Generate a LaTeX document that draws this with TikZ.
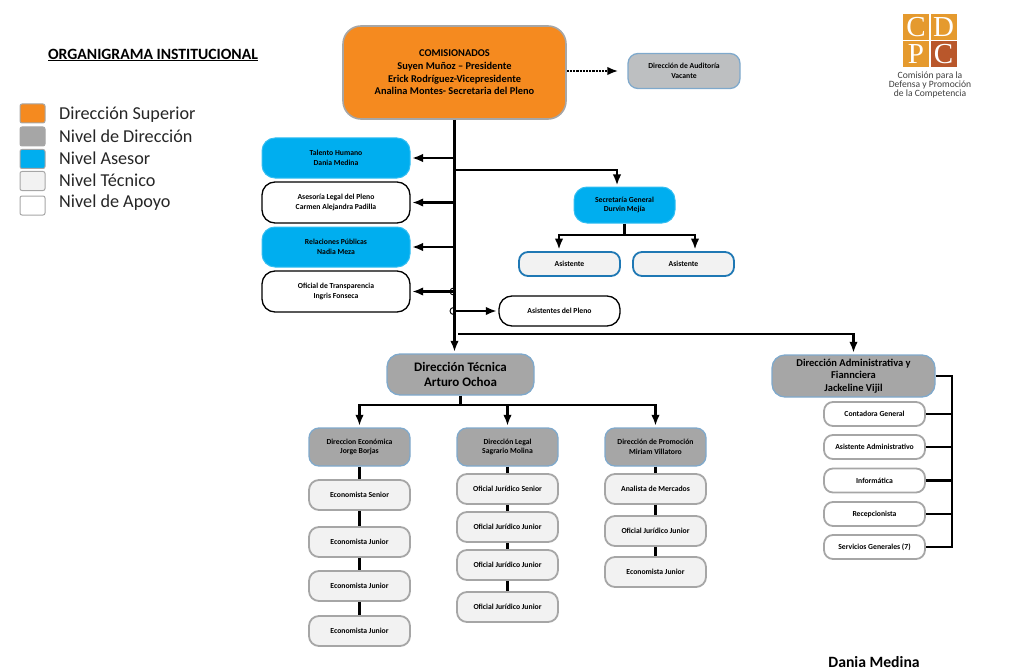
\documentclass[tikz,border=0pt]{standalone}
\usepackage{fontspec}
\setmainfont{Carlito}
\newfontfamily\logofont{Liberation Serif}
\usetikzlibrary{arrows.meta}
\definecolor{naranja}{HTML}{F58A1F}
\definecolor{gris}{HTML}{A6A6A6}
\definecolor{grisclaro}{HTML}{BDBFC1}
\definecolor{celeste}{HTML}{00AEEF}
\definecolor{tecnico}{HTML}{F2F2F2}
\definecolor{bordeazul}{HTML}{7FA9CC}
\definecolor{azul}{HTML}{1F78B4}
\definecolor{logoclaro}{HTML}{E59A2E}
\definecolor{logooscuro}{HTML}{B9572B}
\tikzset{
  caja/.style={draw,rounded corners=10pt,align=center,text=black,inner sep=0pt,font=\bfseries\fontsize{7.7}{9.5}\selectfont},
  superior/.style={caja,fill=naranja,draw=gris,line width=1.6pt,rounded corners=18pt,minimum width=223pt,minimum height=93pt,font=\bfseries\fontsize{10.4}{12.6}\selectfont},
  auditoria/.style={caja,fill=grisclaro,draw=bordeazul,line width=1.3pt,minimum width=112pt,minimum height=35pt},
  asesor/.style={caja,fill=celeste,draw=celeste!80!white,line width=1pt,minimum width=148pt,minimum height=40pt,rounded corners=13pt},
  apoyo/.style={caja,fill=white,draw=black,line width=1.3pt,minimum width=148pt,minimum height=41pt,rounded corners=13pt},
  direccion/.style={caja,fill=gris,draw=bordeazul,line width=1.3pt,minimum width=101pt,minimum height=38pt},
  jefatura/.style={direccion,rounded corners=13pt,font=\bfseries\fontsize{13}{15.5}\selectfont},
  tecnica/.style={caja,fill=tecnico,draw=gris,line width=1.8pt,minimum width=101pt,minimum height=30pt},
  lista/.style={caja,fill=white,draw=gris,line width=1.8pt,minimum width=101pt,minimum height=24pt,rounded corners=9pt},
  asistente/.style={caja,fill=tecnico,draw=azul,line width=1.8pt,minimum width=101pt,minimum height=24pt,rounded corners=9pt},
  muestra/.style={draw=gris,line width=1pt,rounded corners=2pt,minimum width=25pt,minimum height=19pt,inner sep=0pt},
  leyenda/.style={anchor=west,inner sep=0pt,text=black!85,font=\fontsize{18.2}{20}\selectfont},
  logocuadro/.style={minimum size=26pt,inner sep=0pt,text=white,font=\logofont\fontsize{29}{29}\selectfont},
  linea/.style={black,line width=2.2pt},
  flecha/.style={linea,-{Latex[length=11pt,width=8.5pt]},shorten >=1.5pt},
}
\begin{document}
\begin{tikzpicture}[x=1pt,y=-1pt]
\useasboundingbox (0,0) rectangle (1024,671);
% titulo y leyenda
\node[inner sep=0pt,font=\bfseries\fontsize{15.7}{18}\selectfont] (titulo) at (153,55) {\underline{ORGANIGRAMA INSTITUCIONAL}};
\node[muestra,fill=naranja] (m1) at (32.5,113.5) {};
\node[muestra,fill=gris] (m2) at (32.5,136.5) {};
\node[muestra,fill=celeste] (m3) at (32.5,159) {};
\node[muestra,fill=tecnico] (m4) at (32.5,181) {};
\node[muestra,fill=white] (m5) at (32.5,205.5) {};
\node[leyenda] (l1) at (59,115) {Dirección Superior};
\node[leyenda] (l2) at (59,136.5) {Nivel de Dirección};
\node[leyenda] (l3) at (59,158.5) {Nivel Asesor};
\node[leyenda] (l4) at (59,180.5) {Nivel Técnico};
\node[leyenda] (l5) at (59,202.5) {Nivel de Apoyo};
% logo
\node[logocuadro,fill=logoclaro] (logoa) at (916,27) {C};
\node[logocuadro,fill=logoclaro] (logob) at (943.5,27) {D};
\node[logocuadro,fill=logoclaro] (logoc) at (916,54.5) {P};
\node[logocuadro,fill=logooscuro] (logod) at (943.5,54.5) {C};
\node[align=center,inner sep=0pt,text=black!75,font=\fontsize{9.6}{9.4}\selectfont] (logotexto) at (930,85) {Comisión para la\\Defensa y Promoción\\de la Competencia};
% nivel superior y asesores
\node[superior] (comis) at (454.5,72.5) {COMISIONADOS\\Suyen Muñoz -- Presidente\\Erick Rodríguez-Vicepresidente\\Analina Montes- Secretaria del Pleno};
\node[auditoria] (audit) at (684,71) {Dirección de Auditoría\\Vacante};
\node[asesor] (talento) at (336,158) {Talento Humano\\Dania Medina};
\node[apoyo] (asesoria) at (336,202.5) {Asesoría Legal del Pleno\\Carmen Alejandra Padilla};
\node[asesor] (relaciones) at (336,247) {Relaciones Públicas\\Nadia Meza};
\node[apoyo] (oficial) at (336,291.5) {Oficial de Transparencia\\Ingris Fonseca};
\node[asesor,minimum width=101pt,minimum height=36pt] (secgen) at (624.5,205) {Secretaría General\\Durvin Mejía};
\node[asistente] (asisa) at (569.5,264) {Asistente};
\node[asistente] (asisb) at (683.5,264) {Asistente};
\node[apoyo,minimum width=121pt,minimum height=30pt] (pleno) at (559.5,311) {Asistentes del Pleno};
% direcciones
\node[jefatura,minimum width=147pt,minimum height=41pt] (dirtec) at (460.5,374.5) {Dirección Técnica\\Arturo Ochoa};
\node[jefatura,minimum width=163pt,minimum height=42pt,font=\bfseries\fontsize{10.5}{12.8}\selectfont] (diradm) at (853.5,376) {Dirección Administrativa y\\Fiannciera\\Jackeline Vijil};
\node[direccion] (direco) at (359.5,447) {Direccion Económica\\Jorge Borjas};
\node[direccion] (dirleg) at (507.5,447) {Dirección Legal\\Sagrario Molina};
\node[direccion] (dirpro) at (655.5,447) {Dirección de Promoción\\Miriam Villatoro};
% economia
\node[tecnica] (econa) at (359.5,495) {Economista Senior};
\node[tecnica] (econb) at (359.5,542) {Economista Junior};
\node[tecnica] (econc) at (359.5,586) {Economista Junior};
\node[tecnica] (econd) at (359.5,631) {Economista Junior};
% legal
\node[tecnica] (lega) at (507.5,489) {Oficial Jurídico Senior};
\node[tecnica] (legb) at (507.5,527) {Oficial Jurídico Junior};
\node[tecnica] (legc) at (507.5,565) {Oficial Jurídico Junior};
\node[tecnica] (legd) at (507.5,607) {Oficial Jurídico Junior};
% promocion
\node[tecnica] (proa) at (655.5,489) {Analista de Mercados};
\node[tecnica] (prob) at (655.5,531) {Oficial Jurídico Junior};
\node[tecnica] (proc) at (655.5,572) {Economista Junior};
% administracion
\node[lista] (contad) at (874.5,414) {Contadora General};
\node[lista] (asisad) at (874.5,447) {Asistente Administrativo};
\node[lista] (inform) at (874.5,480.5) {Informática};
\node[lista] (recep) at (874.5,514) {Recepcionista};
\node[lista] (servi) at (874.5,547) {Servicios Generales (7)};
\node[inner sep=0pt,font=\bfseries\fontsize{15.7}{18}\selectfont] (firma) at (874,662.5) {Dania Medina};
% puntos de paso
\coordinate (salto) at (458,334);
\coordinate (secin) at (617,187);
\coordinate (secbus) at (624.5,235);
\coordinate (tecbus) at (460.5,405);
\coordinate (admbus) at (952,376);
\coordinate (saltoa) at (comis.south |- oficial.east);
\coordinate (saltob) at (comis.south |- pleno.west);
% conectores de arriba
\draw[flecha,densely dotted,shorten >=9pt] (comis.east |- audit.west) -- (audit.west);
\draw[flecha] (comis.south) -- (comis.south |- dirtec.north);
\draw[flecha] (comis.south |- talento.east) -- (talento.east);
\draw[flecha] (comis.south |- asesoria.east) -- (asesoria.east);
\draw[flecha] (comis.south |- relaciones.east) -- (relaciones.east);
\draw[flecha] (saltoa) -- (oficial.east);
\draw[flecha] (saltob) -- (pleno.west);
\draw[linea,line width=.9pt] (saltoa) ++(-1,-3.5) arc[start angle=90,end angle=270,radius=3.5pt];
\draw[linea,line width=.9pt] (saltob) ++(-1,-3.5) arc[start angle=90,end angle=270,radius=3.5pt];
\draw[flecha] (comis.south |- 0,170) -| (secin);
\draw[linea] (secgen.south) -- (secbus);
\draw[flecha] (secbus) -| ([xshift=-10.5pt]asisa.north);
\draw[flecha] (secbus) -| ([xshift=11.5pt]asisb.north);
\draw[flecha] (salto) -| (diradm.north);
% conectores de direccion tecnica
\draw[linea] (dirtec.south) -- (tecbus);
\draw[flecha] (tecbus) -| (direco.north);
\draw[flecha] (tecbus -| dirleg.north) -- (dirleg.north);
\draw[flecha] (tecbus) -| (dirpro.north);
\draw[linea] (direco) -- (econa);
\draw[linea] (econa) -- (econb);
\draw[linea] (econb) -- (econc);
\draw[linea] (econc) -- (econd);
\draw[linea] (dirleg) -- (lega);
\draw[linea] (lega) -- (legb);
\draw[linea] (legb) -- (legc);
\draw[linea] (legc) -- (legd);
\draw[linea] (dirpro) -- (proa);
\draw[linea] (proa) -- (prob);
\draw[linea] (prob) -- (proc);
% conectores de administracion
\draw[linea] (diradm.east) -- (admbus) -- (admbus |- servi.east) -- (servi.east);
\draw[linea] (contad.east) -- (contad.east -| admbus);
\draw[linea] (asisad.east) -- (asisad.east -| admbus);
\draw[linea] (inform.east) -- (inform.east -| admbus);
\draw[linea] (recep.east) -- (recep.east -| admbus);
\end{tikzpicture}
\end{document}
